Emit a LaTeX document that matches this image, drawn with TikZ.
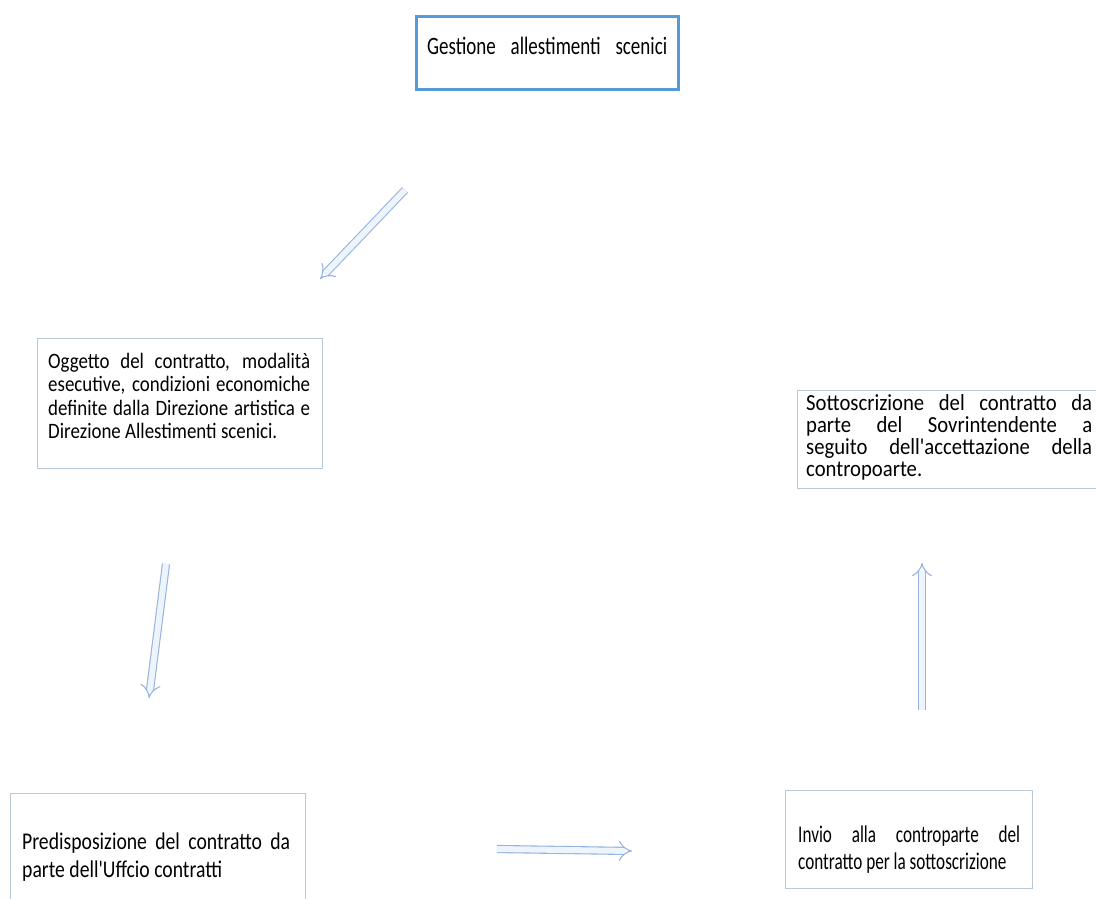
\documentclass[tikz,border=0pt]{standalone}
\usepackage{fontspec}
\setmainfont{Carlito}
\newfontfamily\fonta[FakeStretch=0.76]{Carlito}
\newfontfamily\fontb[FakeStretch=0.86]{Carlito}
\newfontfamily\fontc[FakeStretch=0.9]{Carlito}
\newfontfamily\fontd[FakeStretch=0.82]{Carlito}
\newfontfamily\fonte[FakeStretch=0.715]{Carlito}
\usetikzlibrary{arrows.meta}
\definecolor{topblue}{RGB}{85,155,215}
\definecolor{boxline}{RGB}{185,200,215}
\definecolor{arrowc}{RGB}{150,180,225}
\definecolor{arrowfill}{RGB}{238,244,252}
\newcommand{\jl}[2]{\makebox[#1][s]{#2}}
\tikzset{
  topbox/.style={draw=topblue, line width=3pt, anchor=north west, inner sep=0pt},
  plainbox/.style={draw=boxline, line width=1pt, anchor=north west, inner sep=0pt},
  txt/.style={anchor=north west, inner sep=0pt, align=left},
  blockarrow/.style={draw=arrowc, line width=1.1pt, double=arrowfill, double distance=6pt, -{Implies}},
}
\begin{document}
\begin{tikzpicture}[x=1pt,y=-1pt]
\useasboundingbox[fill=white] (0,0) rectangle (1096,899);
% boxes
\node[topbox, minimum width=262pt, minimum height=73pt] (b1) at (415,15) {};
\node[anchor=west, inner sep=0pt, font=\fonta\fontsize{25}{26}\selectfont] (t1) at (427,46) {\jl{240pt}{Gestione allestimenti scenici}};

\node[plainbox, minimum width=285pt, minimum height=130pt] (b2) at (37,338) {};
\node[txt, font=\fontb\fontsize{22}{23.5}\selectfont] (t2) at (48,353) {\jl{262pt}{Oggetto del contratto, modalità}\\ \jl{262pt}{esecutive, condizioni economiche}\\ \jl{262pt}{definite dalla Direzione artistica e}\\ Direzione Allestimenti scenici.};

\node[plainbox, minimum width=310pt, minimum height=98pt] (b3) at (797,390) {};
\node[txt, font=\fontc\fontsize{23}{22}\selectfont] (t3) at (806,394) {\jl{286pt}{Sottoscrizione del contratto da}\\ \jl{286pt}{parte del Sovrintendente a}\\ \jl{286pt}{seguito dell'accettazione della}\\ contropoarte.};

\node[plainbox, minimum width=295pt, minimum height=120pt] (b4) at (10,793) {};
\node[txt, font=\fontd\fontsize{24}{28}\selectfont] (t4) at (22,833) {\jl{268pt}{Predisposizione del contratto da}\\ parte dell'Uffcio contratti};

\node[plainbox, minimum width=247pt, minimum height=98pt] (b5) at (785,790) {};
\node[txt, font=\fonte\fontsize{24}{27}\selectfont] (t5) at (798,826) {\jl{222pt}{Invio alla controparte del}\\ contratto per la sottoscrizione};

% arrow ends
\coordinate (a1s) at (405,190);
\coordinate (a1e) at (320,279);
\coordinate (a2s) at (166,564);
\coordinate (a2e) at (149,698);
\coordinate (a3s) at (497,849);
\coordinate (a3e) at (632,851);
\coordinate (a4s) at (922,710);
\coordinate (a4e) at (922,563);
\draw[blockarrow] (a1s) -- (a1e);
\draw[blockarrow] (a2s) -- (a2e);
\draw[blockarrow] (a3s) -- (a3e);
\draw[blockarrow] (a4s) -- (a4e);
\end{tikzpicture}
\end{document}
